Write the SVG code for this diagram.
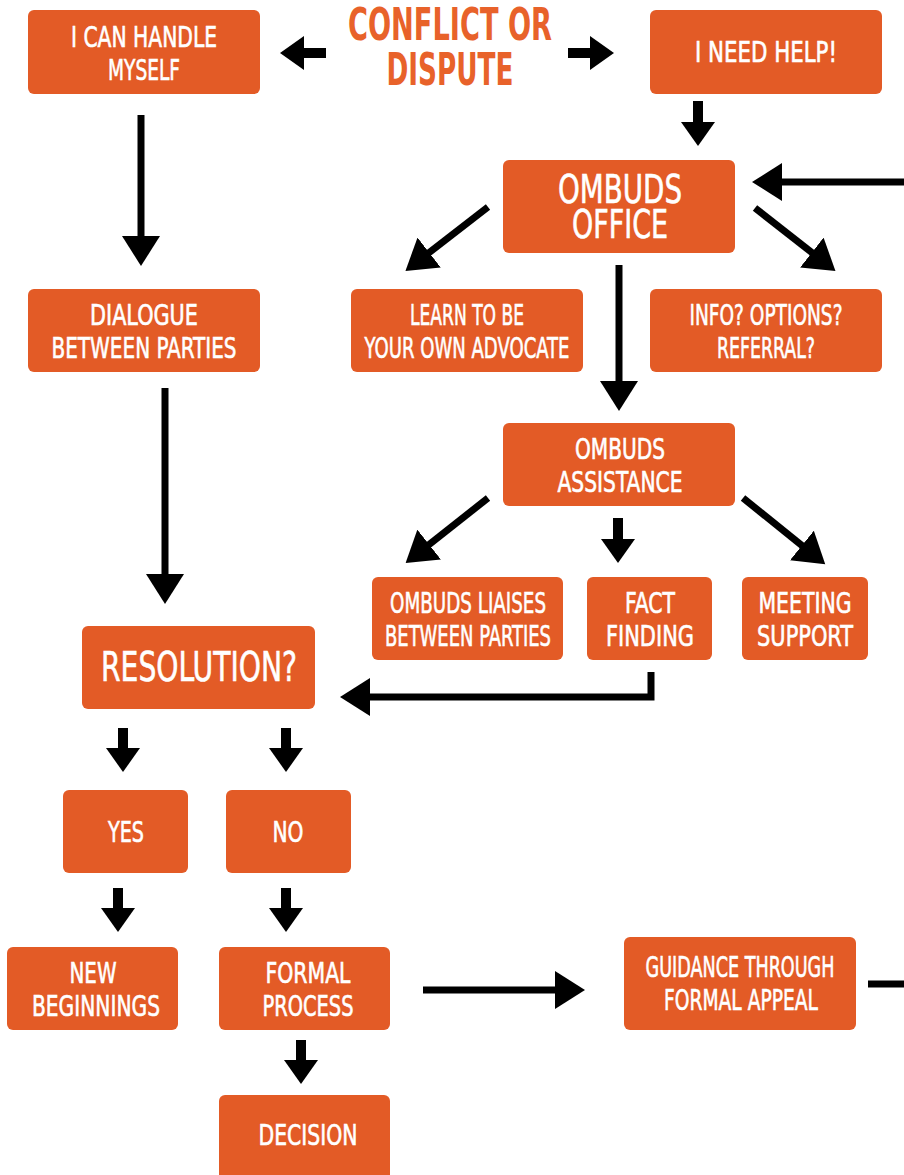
<svg xmlns="http://www.w3.org/2000/svg" width="904" height="1175" viewBox="0 0 904 1175">
<style>
.box{fill:#E35B26}
.t{font-family:"Liberation Sans Narrow","DejaVu Sans Condensed","Liberation Sans",sans-serif;font-stretch:condensed;fill:#fff;stroke:#fff;stroke-width:0.6;font-size:29px;text-anchor:middle}
.big{font-size:39px}
.res{font-size:41px}
.title{fill:#E8622A;stroke:none;font-size:45px;font-weight:bold}
.a{stroke:#000;stroke-width:10;fill:none}
.l{stroke:#000;stroke-width:7;fill:none}
</style>
<defs>
<marker id="hs" markerUnits="userSpaceOnUse" markerWidth="30" markerHeight="34" refX="4" refY="17" orient="auto" viewBox="0 0 30 34">
<path d="M0,0 L24,17 L0,34 Z" fill="#000"/>
</marker>
<marker id="hl" markerUnits="userSpaceOnUse" markerWidth="34" markerHeight="38" refX="4" refY="19" orient="auto" viewBox="0 0 34 38">
<path d="M0,0 L30,19 L0,38 Z" fill="#000"/>
</marker>
</defs>
<rect width="904" height="1175" fill="#fff"/>
<g id="title"><text class="t title" x="450" y="40" textLength="204" lengthAdjust="spacingAndGlyphs">CONFLICT OR</text><text class="t title" x="450" y="85" textLength="127" lengthAdjust="spacingAndGlyphs">DISPUTE</text></g>
<g id="handle"><rect class="box" x="28" y="10" width="232" height="84" rx="6"/><text class="t" x="144" y="47" textLength="146" lengthAdjust="spacingAndGlyphs">I CAN HANDLE</text><text class="t" x="144" y="80" textLength="72" lengthAdjust="spacingAndGlyphs">MYSELF</text></g>
<g id="help"><rect class="box" x="650" y="10" width="232" height="84" rx="6"/><text class="t" x="766" y="62" textLength="142" lengthAdjust="spacingAndGlyphs">I NEED HELP!</text></g>
<g id="office"><rect class="box" x="503" y="160" width="232" height="93" rx="6"/><text class="t big" x="620" y="203" textLength="124" lengthAdjust="spacingAndGlyphs">OMBUDS</text><text class="t big" x="620" y="238" textLength="96" lengthAdjust="spacingAndGlyphs">OFFICE</text></g>
<g id="dialogue"><rect class="box" x="28" y="289" width="232" height="83" rx="6"/><text class="t" x="144" y="325" textLength="108" lengthAdjust="spacingAndGlyphs">DIALOGUE</text><text class="t" x="144" y="358" textLength="185" lengthAdjust="spacingAndGlyphs">BETWEEN PARTIES</text></g>
<g id="learn"><rect class="box" x="351" y="289" width="232" height="83" rx="6"/><text class="t" x="467" y="325" textLength="114" lengthAdjust="spacingAndGlyphs">LEARN TO BE</text><text class="t" x="467" y="358" textLength="205" lengthAdjust="spacingAndGlyphs">YOUR OWN ADVOCATE</text></g>
<g id="info"><rect class="box" x="650" y="289" width="232" height="83" rx="6"/><text class="t" x="766" y="325" textLength="153" lengthAdjust="spacingAndGlyphs">INFO? OPTIONS?</text><text class="t" x="766" y="358" textLength="98" lengthAdjust="spacingAndGlyphs">REFERRAL?</text></g>
<g id="assist"><rect class="box" x="503" y="423" width="232" height="83" rx="6"/><text class="t" x="620" y="459" textLength="90" lengthAdjust="spacingAndGlyphs">OMBUDS</text><text class="t" x="620" y="492" textLength="125" lengthAdjust="spacingAndGlyphs">ASSISTANCE</text></g>
<g id="liaises"><rect class="box" x="372" y="577" width="191" height="83" rx="6"/><text class="t" x="468" y="613" textLength="156" lengthAdjust="spacingAndGlyphs">OMBUDS LIAISES</text><text class="t" x="468" y="646" textLength="166" lengthAdjust="spacingAndGlyphs">BETWEEN PARTIES</text></g>
<g id="fact"><rect class="box" x="587" y="577" width="125" height="83" rx="6"/><text class="t" x="650" y="613" textLength="50" lengthAdjust="spacingAndGlyphs">FACT</text><text class="t" x="650" y="646" textLength="88" lengthAdjust="spacingAndGlyphs">FINDING</text></g>
<g id="meeting"><rect class="box" x="742" y="577" width="126" height="83" rx="6"/><text class="t" x="805" y="613" textLength="93" lengthAdjust="spacingAndGlyphs">MEETING</text><text class="t" x="805" y="646" textLength="96" lengthAdjust="spacingAndGlyphs">SUPPORT</text></g>
<g id="resolution"><rect class="box" x="82" y="626" width="233" height="83" rx="6"/><text class="t res" x="199" y="681" textLength="196" lengthAdjust="spacingAndGlyphs">RESOLUTION?</text></g>
<g id="yes"><rect class="box" x="63" y="790" width="125" height="83" rx="6"/><text class="t" x="126" y="842" textLength="36" lengthAdjust="spacingAndGlyphs">YES</text></g>
<g id="no"><rect class="box" x="226" y="790" width="125" height="83" rx="6"/><text class="t" x="288" y="842" textLength="31" lengthAdjust="spacingAndGlyphs">NO</text></g>
<g id="newbeg"><rect class="box" x="7" y="947" width="171" height="83" rx="6"/><text class="t" x="93" y="983" textLength="47" lengthAdjust="spacingAndGlyphs">NEW</text><text class="t" x="96" y="1016" textLength="128" lengthAdjust="spacingAndGlyphs">BEGINNINGS</text></g>
<g id="formal"><rect class="box" x="219" y="947" width="171" height="83" rx="6"/><text class="t" x="308" y="983" textLength="85" lengthAdjust="spacingAndGlyphs">FORMAL</text><text class="t" x="308" y="1016" textLength="91" lengthAdjust="spacingAndGlyphs">PROCESS</text></g>
<g id="guidance"><rect class="box" x="624" y="937" width="232" height="93" rx="6"/><text class="t" x="740" y="977" textLength="189" lengthAdjust="spacingAndGlyphs">GUIDANCE THROUGH</text><text class="t" x="741" y="1010" textLength="154" lengthAdjust="spacingAndGlyphs">FORMAL APPEAL</text></g>
<g id="decision"><rect class="box" x="219" y="1095" width="171" height="86" rx="6"/><text class="t" x="308" y="1145" textLength="99" lengthAdjust="spacingAndGlyphs">DECISION</text></g>
<g id="connectors">
<line class="a" x1="326" y1="53" x2="300" y2="53" marker-end="url(#hs)"/>
<line class="a" x1="568" y1="53" x2="594" y2="53" marker-end="url(#hs)"/>
<line class="a" x1="698" y1="101" x2="698" y2="126" marker-end="url(#hs)"/>
<line class="l" x1="141" y1="115" x2="141" y2="240" marker-end="url(#hl)"/>
<line class="l" x1="904" y1="182" x2="778" y2="182" marker-end="url(#hl)"/>
<line class="l" x1="488" y1="207" x2="426" y2="255" marker-end="url(#hl)"/>
<line class="l" x1="755" y1="208" x2="815" y2="255" marker-end="url(#hl)"/>
<line class="l" x1="619" y1="265" x2="619" y2="385" marker-end="url(#hl)"/>
<line class="l" x1="165" y1="388" x2="165" y2="578" marker-end="url(#hl)"/>
<line class="l" x1="488" y1="498" x2="426" y2="547" marker-end="url(#hl)"/>
<line class="a" x1="618" y1="518" x2="618" y2="543" marker-end="url(#hs)"/>
<line class="l" x1="743" y1="498" x2="805" y2="548" marker-end="url(#hl)"/>
<path class="l" d="M651,672 V697 H366" marker-end="url(#hl)"/>
<line class="a" x1="123" y1="728" x2="123" y2="752" marker-end="url(#hs)"/>
<line class="a" x1="286" y1="728" x2="286" y2="752" marker-end="url(#hs)"/>
<line class="a" x1="118" y1="888" x2="118" y2="912" marker-end="url(#hs)"/>
<line class="a" x1="286" y1="888" x2="286" y2="912" marker-end="url(#hs)"/>
<line class="l" x1="423" y1="990" x2="559" y2="990" marker-end="url(#hl)"/>
<line class="l" x1="868" y1="984" x2="904" y2="984"/>
<line class="a" x1="301" y1="1040" x2="301" y2="1064" marker-end="url(#hs)"/>
</g>
</svg>
